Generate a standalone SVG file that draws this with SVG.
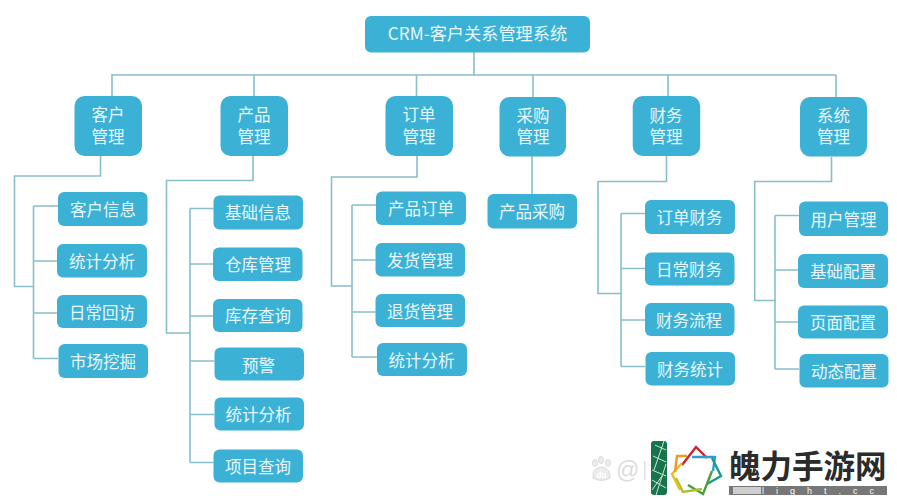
<svg xmlns="http://www.w3.org/2000/svg" width="897" height="500" viewBox="0 0 897 500">
<style>
text{font-family:"Noto Sans CJK SC","Noto Sans",sans-serif}
.n rect{fill:#3cb1d6}
.n text{fill:#e6f8fb;font-size:16.500px;text-anchor:middle}
#connectors path{fill:none;stroke:#88bfc9;stroke-width:1.600}
</style>
<rect width="897" height="500" fill="#fff"/>
<g id="connectors">
<path d="M474 52V75M112 75H836M112 74V96M254 75V96M416.500 75V96M533 75V97M668 75V96M836 75V97"/>
<path d="M100.500 156V176H14.500V286.500H33.500M33.500 206V358.500M33.500 206H58M33.500 261H57M33.500 313H57M33.500 358.500H58"/>
<path d="M253 156V180.500H166.500V333H190M190 208.500V462.500M190 208.500H213.500M190 264H213M190 316H213M190 361H214.500M190 414.500H214.500M190 462.500H213.500"/>
<path d="M417 156V177H331.500V286H352M352 205V357M352 205H376M352 260H375.500M352 312H375.500M352 357H377"/>
<path d="M532 156V194"/>
<path d="M666.500 156V181.500H598V293.500H621M621 213.500V366.500M621 213.500H645M621 268.500H645M621 320H645M621 366.500H645"/>
<path d="M831.500 157V181.500H754.700V300.500H776M775 215.500V369M775 215.500H799M775 270H799M775 322H799M775 369H799"/>
</g>
<g id="root" class="n"><rect x="365" y="16" width="225" height="36.500" rx="6"/><text x="477.500" y="40" style="font-size:17.200px">CRM-客户关系管理系统</text></g>
<g id="m1" class="n"><rect x="74.500" y="96" width="67.500" height="60" rx="10"/><text x="108" y="121">客户<tspan x="108" dy="21.500">管理</tspan></text></g>
<g id="m2" class="n"><rect x="220.500" y="96" width="67.500" height="60" rx="10"/><text x="254" y="121">产品<tspan x="254" dy="21.500">管理</tspan></text></g>
<g id="m3" class="n"><rect x="385.500" y="96" width="67.500" height="60" rx="10"/><text x="419" y="121">订单<tspan x="419" dy="21.500">管理</tspan></text></g>
<g id="m4" class="n"><rect x="499.500" y="97" width="66.500" height="59.500" rx="10"/><text x="533" y="122">采购<tspan x="533" dy="21">管理</tspan></text></g>
<g id="m5" class="n"><rect x="632.700" y="96" width="67.500" height="60" rx="10"/><text x="666" y="122">财务<tspan x="666" dy="21">管理</tspan></text></g>
<g id="m6" class="n"><rect x="800" y="97" width="67" height="59.500" rx="10"/><text x="833.500" y="122">系统<tspan x="833.500" dy="21">管理</tspan></text></g>
<g id="a1" class="n"><rect x="58" y="192" width="89.500" height="34" rx="6"/><text x="103" y="215.500">客户信息</text></g>
<g id="a2" class="n"><rect x="57" y="244" width="90" height="33.500" rx="6"/><text x="102" y="268">统计分析</text></g>
<g id="a3" class="n"><rect x="57" y="295" width="90" height="33" rx="6"/><text x="102" y="318.500">日常回访</text></g>
<g id="a4" class="n"><rect x="58.500" y="344" width="89.500" height="34" rx="6"/><text x="103" y="367.500">市场挖掘</text></g>
<g id="b1" class="n"><rect x="213.500" y="195.500" width="89.500" height="34" rx="6"/><text x="258" y="218.500">基础信息</text></g>
<g id="b2" class="n"><rect x="213" y="247.500" width="89.500" height="33.500" rx="6"/><text x="258" y="270.500">仓库管理</text></g>
<g id="b3" class="n"><rect x="213" y="299" width="89.500" height="33" rx="6"/><text x="258" y="321.500">库存查询</text></g>
<g id="b4" class="n"><rect x="214.500" y="347.500" width="89.500" height="33" rx="6"/><text x="258.500" y="372">预警</text></g>
<g id="b5" class="n"><rect x="214.500" y="397.500" width="89.500" height="33" rx="6"/><text x="258.500" y="420.500">统计分析</text></g>
<g id="b6" class="n"><rect x="213.500" y="449.500" width="89.500" height="33" rx="6"/><text x="258" y="472.500">项目查询</text></g>
<g id="c1" class="n"><rect x="376" y="191.500" width="90" height="33.500" rx="6"/><text x="421" y="215">产品订单</text></g>
<g id="c2" class="n"><rect x="375.500" y="243" width="89.500" height="33.500" rx="6"/><text x="420" y="267">发货管理</text></g>
<g id="c3" class="n"><rect x="375.500" y="294" width="89.500" height="33" rx="6"/><text x="420" y="317.500">退货管理</text></g>
<g id="c4" class="n"><rect x="377" y="343" width="90" height="33" rx="6"/><text x="421.500" y="366.500">统计分析</text></g>
<g id="d1" class="n"><rect x="487.500" y="194" width="89.500" height="34.500" rx="6"/><text x="532" y="217.500">产品采购</text></g>
<g id="e1" class="n"><rect x="645" y="200" width="90" height="34" rx="6"/><text x="689.500" y="223.500">订单财务</text></g>
<g id="e2" class="n"><rect x="645" y="252.500" width="89.500" height="33" rx="6"/><text x="689" y="275.500">日常财务</text></g>
<g id="e3" class="n"><rect x="645" y="303" width="89.500" height="33" rx="6"/><text x="689" y="326.500">财务流程</text></g>
<g id="e4" class="n"><rect x="645.500" y="352" width="89.500" height="33.500" rx="6"/><text x="690" y="376">财务统计</text></g>
<g id="f1" class="n"><rect x="799" y="201.500" width="89" height="34.500" rx="6"/><text x="843.500" y="225.500">用户管理</text></g>
<g id="f2" class="n"><rect x="798" y="254" width="90" height="34" rx="6"/><text x="843" y="277.500">基础配置</text></g>
<g id="f3" class="n"><rect x="798" y="305.500" width="90" height="33" rx="6"/><text x="843" y="328.500">页面配置</text></g>
<g id="f4" class="n"><rect x="799.500" y="354" width="89" height="33.500" rx="6"/><text x="844" y="377.500">动态配置</text></g>
<g id="watermark">
<g fill="#ececec" stroke="#d4d4d4" stroke-width="0.800">
<ellipse cx="595" cy="463" rx="2.500" ry="3.500"/><ellipse cx="601" cy="460" rx="2.500" ry="3.500"/><ellipse cx="608" cy="463" rx="2.500" ry="3.500"/><path d="M593 478Q592 468 601 467Q611 468 610 478Q601 483 593 478Z"/>
</g>
<text x="601.500" y="478" style="font-size:8px;font-weight:700;fill:#fff;text-anchor:middle">du</text>
<text x="616" y="478" style="font-size:23px;fill:#dcdcdc;font-family:'Liberation Sans',sans-serif">@</text>
<rect x="644" y="461" width="1.500" height="19" fill="#dedede"/>
<rect x="651" y="441" width="16" height="54" rx="3" fill="#15744a"/>
<path d="M654 470L664 441M656 495L666 464M652 480L666 488M653 456L666 462M652 490L662 476M655 445L666 450M652 470L666 476" stroke="#cfe5d6" stroke-width="1" fill="none"/>
<g fill="none" stroke-width="2.400">
<path d="M682 465L696 447L707 458" stroke="#c9252e"/>
<path d="M692 457H715L713 471" stroke="#2a9fd0"/>
<path d="M712 458L721 476L707 484" stroke="#1c9a8a"/>
<path d="M712 471L703 494L688 485" stroke="#4c9f3c"/>
<path d="M702 489L683 492L676 478" stroke="#a8c230"/>
<path d="M680 490L672 474L682 463" stroke="#e8c020"/>
<path d="M675 472L677 456H687" stroke="#ee9a26"/>
</g>
<text x="729" y="478" style="font-size:31.500px;font-weight:700;fill:#2b2b2b">魄力手游网</text>
<rect x="729" y="486" width="158" height="9" fill="#777"/>
<rect x="733" y="487" width="28" height="7" fill="#cfcfcf"/>
<text x="762" y="494" style="font-size:9px;fill:#fff;font-family:'Liberation Sans',sans-serif;letter-spacing:12px">light.cc</text>
</g>
</svg>
